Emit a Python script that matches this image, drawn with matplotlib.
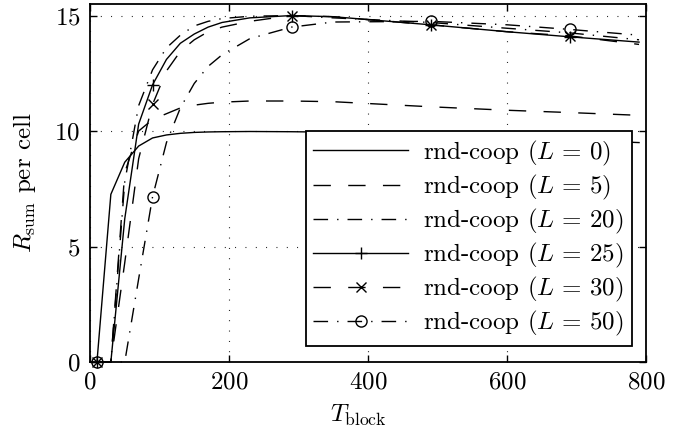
import matplotlib
matplotlib.use('Agg')
import matplotlib.pyplot as plt

plt.rcParams.update({
    'font.family': 'serif',
    'font.serif': ['cmr10'],
    'mathtext.fontset': 'cm',
    'axes.formatter.use_mathtext': True,
    'font.size': 18,
})

# Block length samples
T_block = [10, 30, 50, 70, 90, 110, 130, 150, 170, 190, 230, 290, 350, 490, 600, 690, 790]

rate_L0 = [0, 7.26, 8.65, 9.35, 9.7, 9.83, 9.9, 9.94, 9.96, 9.97, 9.98, 9.97, 9.95, 9.82, 9.72, 9.62, 9.5]
rate_L5 = [0, 0, 8.2, 10.0, 10.5, 10.75, 11.0, 11.12, 11.2, 11.25, 11.3, 11.3, 11.27, 11.05, 10.9, 10.8, 10.68]
rate_L20 = [0, 0, 7.8, 11.1, 12.65, 13.6, 14.15, 14.55, 14.75, 14.87, 14.97, 15.0, 14.9, 14.7, 14.45, 14.25, 13.95]
rate_L25 = [0, 0, 6.2, 10.3, 12.0, 13.1, 13.8, 14.2, 14.5, 14.7, 14.9, 15.0, 14.95, 14.6, 14.3, 14.08, 13.85]
rate_L30 = [0, 0, 4.3, 8.8, 11.15, 12.6, 13.45, 13.95, 14.3, 14.5, 14.75, 15.0, 14.95, 14.6, 14.3, 14.12, 13.75]
rate_L50 = [0, 0, 0, 3.6, 7.15, 9.5, 11.0, 12.06, 12.8, 13.3, 14.0, 14.5, 14.72, 14.75, 14.6, 14.4, 14.15]

labels = [r'rnd-coop ($L\,=\,0$)', r'rnd-coop ($L\,=\,5$)', r'rnd-coop ($L\,=\,20$)',
          r'rnd-coop ($L\,=\,25$)', r'rnd-coop ($L\,=\,30$)', r'rnd-coop ($L\,=\,50$)']

x_ticks = [0, 200, 400, 600, 800]
y_ticks = [0, 5, 10, 15]

marker_idx = [0, 4, 11, 13, 15]

dash = (12.5, 12.5)
dashdot = (10.5, 6.5, 1.0, 6.5)

fig = plt.figure(figsize=(6.93, 4.36), dpi=100)
ax = fig.add_axes([90/693, 74/436, 556/693, 358/436])

lw = 1.0
ax.plot(T_block, rate_L0, color='k', lw=lw, ls='-', label=labels[0])
ax.plot(T_block, rate_L5, color='k', lw=lw, ls=(0, dash), label=labels[1])
ax.plot(T_block, rate_L20, color='k', lw=lw, ls=(0, dashdot), label=labels[2])
ax.plot(T_block, rate_L25, color='k', lw=lw, ls='-', marker='+', ms=9, mew=1.0,
        markevery=marker_idx, label=labels[3], clip_on=False)
ax.plot(T_block, rate_L30, color='k', lw=lw, ls=(0, dash), marker='x', ms=6.5, mew=1.0,
        markevery=marker_idx, label=labels[4], clip_on=False)
ax.plot(T_block, rate_L50, color='k', lw=lw, ls=(0, dashdot), marker='o', ms=8, mew=1.0,
        mfc='none', markevery=marker_idx, label=labels[5], clip_on=False)

ax.set_xlim(0, 800)
ax.set_ylim(0, 15.5)
ax.set_xticks(x_ticks)
ax.set_yticks(y_ticks)
ax.grid(True, color='k', linestyle=(0, (0.8, 8.5)), linewidth=0.8)
ax.tick_params(direction='in', length=5, width=1.0, top=True, right=True, labelsize=18, pad=7)
for s in ax.spines.values():
    s.set_linewidth(1.3)

ax.set_xlabel(r'$T_{\rm block}$', fontsize=18, labelpad=7)
ax.xaxis.set_label_coords(0.483, -0.115)
ax.set_ylabel(r'$R_{\rm sum}$ per cell', fontsize=18, labelpad=12)

leg = ax.legend(loc='lower right', bbox_to_anchor=(0.974, 0.0455), borderaxespad=0,
                fancybox=False, framealpha=1, edgecolor='k', fontsize=18,
                handlelength=3.8, handletextpad=0.6, labelspacing=0.2, borderpad=0.3)
leg.get_frame().set_linewidth(1.3)

fig.savefig('out.png', dpi=100)
